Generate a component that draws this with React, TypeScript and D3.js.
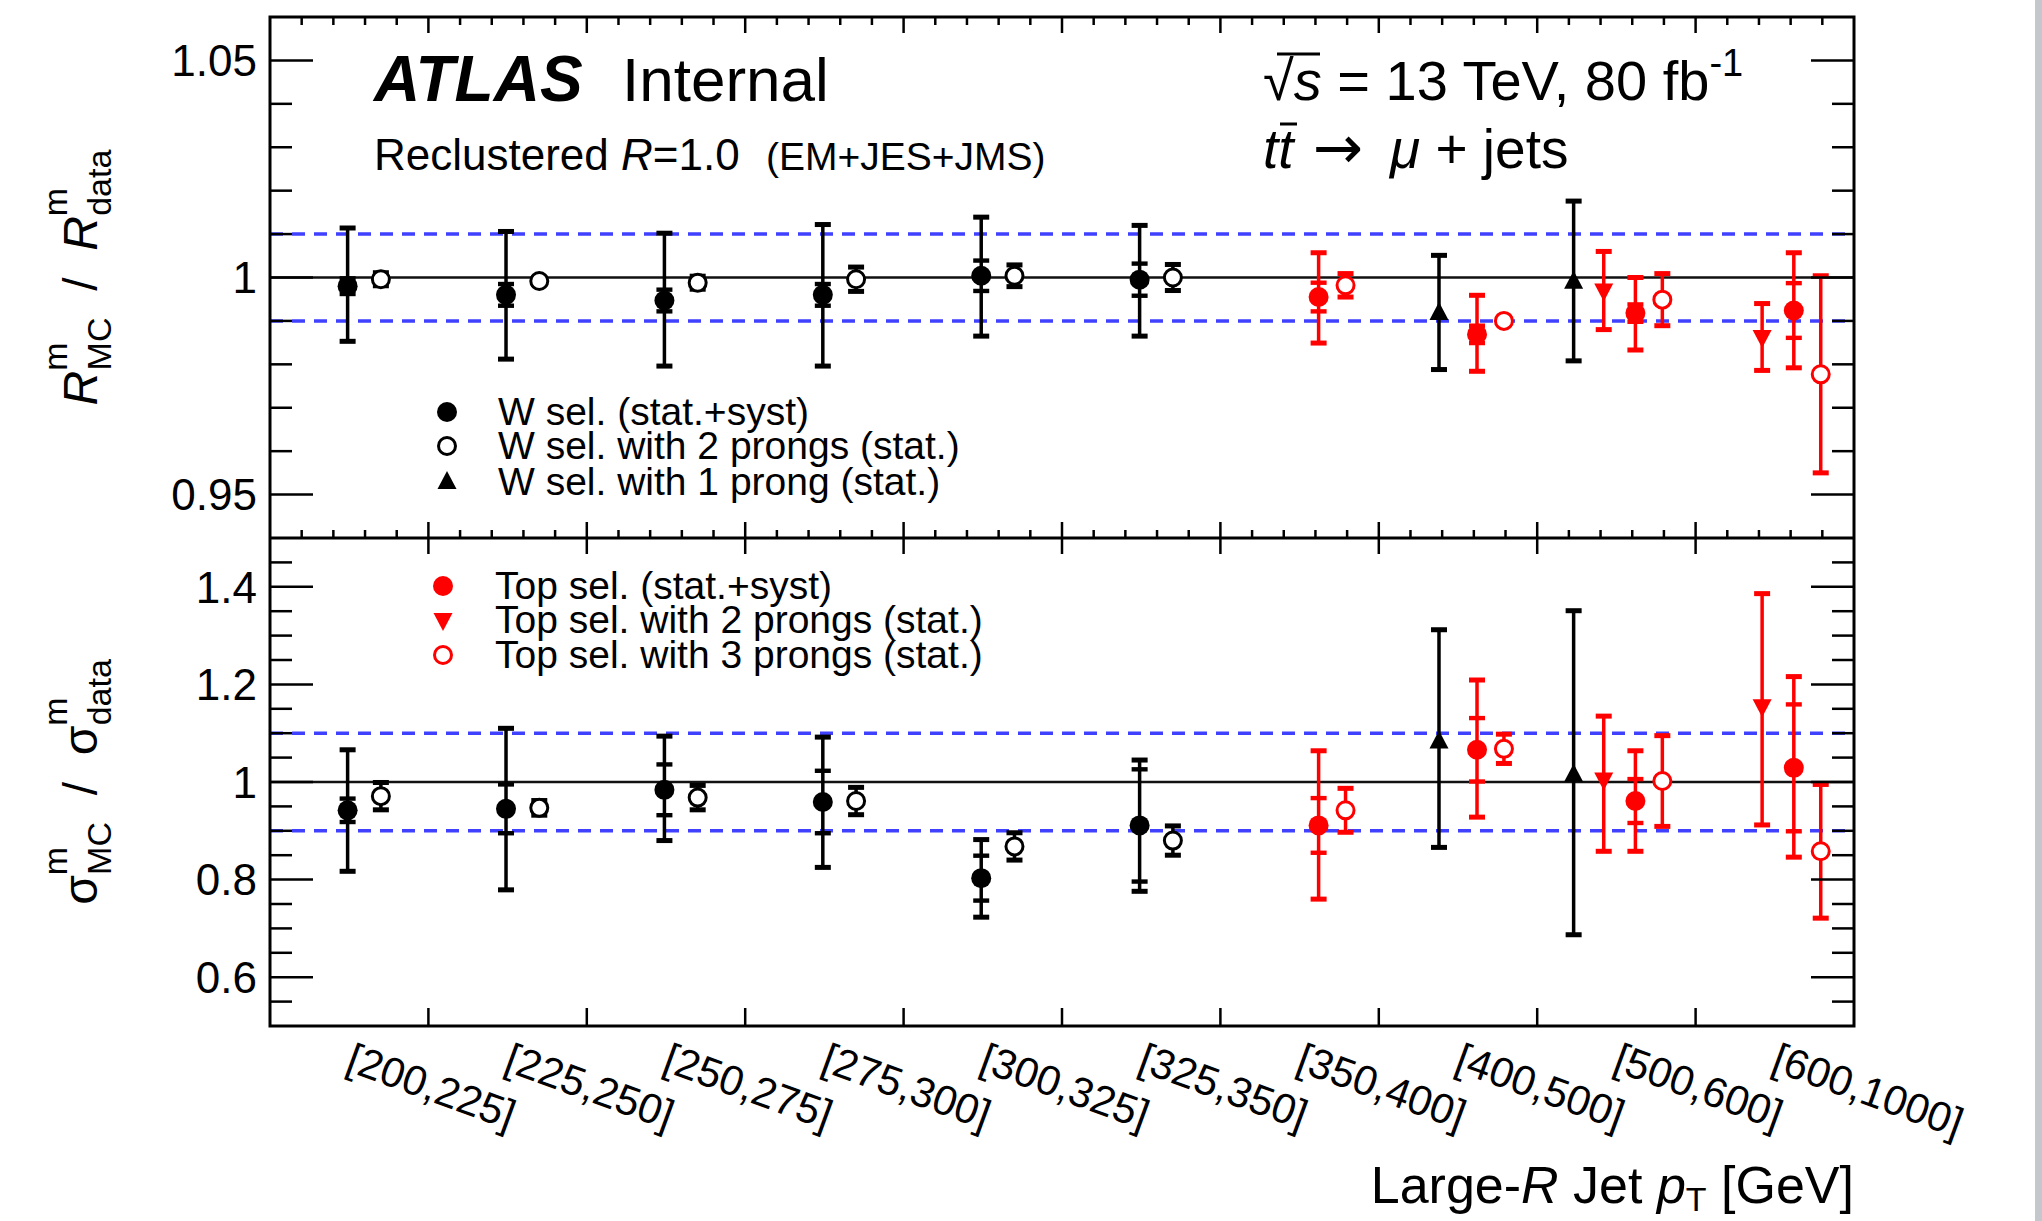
import React from "react"
import * as d3 from "d3"

const ptBins = ["[200,225]", "[225,250]", "[250,275]", "[275,300]", "[300,325]",
  "[325,350]", "[350,400]", "[400,500]", "[500,600]", "[600,1000]"]

const rTicks = [0.95, 1, 1.05]
const sTicks = [0.6, 0.8, 1, 1.2, 1.4]

// ---- R^m_MC / R^m_data ----
const rWSel     = [0.998, 0.996, 0.9947, 0.996, 1.0004, 0.9995, null, null, null, null]
const rWSelUp   = [0.0134, 0.0146, 0.0155, 0.0162, 0.0135, 0.0125, 0, 0, 0, 0]
const rWSelDn   = [0.0127, 0.0148, 0.0151, 0.0164, 0.0139, 0.013, 0, 0, 0, 0]
const rWSelStat = [0.0018, 0.0025, 0.0025, 0.0025, 0.0035, 0.0037, 0, 0, 0, 0]
const rW2p      = [0.9996, 0.9992, 0.9988, 0.9996, 1.0004, 1.0, null, null, null, null]
const rW2pErr   = [0.0015, 0.0008, 0.0015, 0.0028, 0.0025, 0.003, 0, 0, 0, 0]
const rW1p      = [null, null, null, null, null, null, null, 0.9918, 0.999, null]
const rW1pUp    = [0, 0, 0, 0, 0, 0, 0, 0.0133, 0.0186, 0]
const rW1pDn    = [0, 0, 0, 0, 0, 0, 0, 0.013, 0.0182, 0]
const rTopSel     = [null, null, null, null, null, null, 0.9955, 0.9869, 0.9918, 0.9924]
const rTopSelUp   = [0, 0, 0, 0, 0, 0, 0.0102, 0.009, 0.0082, 0.0133]
const rTopSelDn   = [0, 0, 0, 0, 0, 0, 0.0106, 0.0085, 0.0085, 0.0132]
const rTopSelStat = [0, 0, 0, 0, 0, 0, 0.0033, 0.002, 0.002, 0.0063]
const rTop2p    = [null, null, null, null, null, null, null, null, 0.997, 0.9863]
const rTop2pErr = [0, 0, 0, 0, 0, 0, 0, 0, 0.009, 0.0077]
const rTop3p    = [null, null, null, null, null, null, 0.9982, 0.99, 0.9949, 0.9777]
const rTop3pErr = [0, 0, 0, 0, 0, 0, 0.0027, 0.0008, 0.006, 0.0227]

// ---- sigma^m_MC / sigma^m_data ----
const sWSel     = [0.942, 0.945, 0.984, 0.959, 0.803, 0.911, null, null, null, null]
const sWSelUp   = [0.124, 0.165, 0.11, 0.133, 0.079, 0.134, 0, 0, 0, 0]
const sWSelDn   = [0.125, 0.166, 0.104, 0.134, 0.08, 0.135, 0, 0, 0, 0]
const sWSelStat = [0.024, 0.05, 0.052, 0.064, 0.046, 0.115, 0, 0, 0, 0]
const sW2p      = [0.971, 0.947, 0.968, 0.961, 0.868, 0.88, null, null, null, null]
const sW2pErr   = [0.028, 0.015, 0.025, 0.028, 0.028, 0.03, 0, 0, 0, 0]
const sW1p      = [null, null, null, null, null, null, null, 1.083, 1.015, null]
const sW1pUp    = [0, 0, 0, 0, 0, 0, 0, 0.229, 0.336, 0]
const sW1pDn    = [0, 0, 0, 0, 0, 0, 0, 0.217, 0.328, 0]
const sTopSel     = [null, null, null, null, null, null, 0.911, 1.066, 0.961, 1.029]
const sTopSelUp   = [0, 0, 0, 0, 0, 0, 0.153, 0.143, 0.103, 0.187]
const sTopSelDn   = [0, 0, 0, 0, 0, 0, 0.151, 0.138, 0.103, 0.183]
const sTopSelStat = [0, 0, 0, 0, 0, 0, 0.056, 0.065, 0.045, 0.13]
const sTop2p    = [null, null, null, null, null, null, null, null, 1.005, 1.155]
const sTop2pUp  = [0, 0, 0, 0, 0, 0, 0, 0, 0.13, 0.231]
const sTop2pDn  = [0, 0, 0, 0, 0, 0, 0, 0, 0.147, 0.243]
const sTop3p    = [null, null, null, null, null, null, 0.942, 1.068, 1.002, 0.858]
const sTop3pErr = [0, 0, 0, 0, 0, 0, 0.045, 0.03, 0.093, 0.137]

const legendW = ["W sel. (stat.+syst)", "W sel. with 2 prongs (stat.)", "W sel. with 1 prong (stat.)"]
const legendTop = ["Top sel. (stat.+syst)", "Top sel. with 2 prongs (stat.)", "Top sel. with 3 prongs (stat.)"]

const FONT = "'Liberation Sans', Arial, Helvetica, sans-serif"
const W = 2042, H = 1221
const L = 270, R = 1854, T = 17, M = 538, B = 1026
const BLUE = "#4040ff"

const x = d3.scaleBand().domain(ptBins).range([L, R])
const bw = x.bandwidth()
const yR = d3.scaleLinear().domain([0.94, 1.06]).range([M, T])
const yS = d3.scaleLinear().domain([0.5, 1.5]).range([B, M])

// position of each series inside a bin (fraction of bin width)
const SLOT = { wSel: 0.49, w2p: 0.7, w1p: 0.38, w1pShift: 0.23, t2p: 0.42, tSel: 0.62, t3p: 0.79 }

function marker(kind, cx, cy, color, key) {
  if (kind === "filled") return <circle key={key} cx={cx} cy={cy} r={10} fill={color} />
  if (kind === "open") return <circle key={key} cx={cx} cy={cy} r={8.5} fill="white" stroke={color} strokeWidth={3} />
  const s = kind === "up" ? 1 : -1
  return <path key={key} d={`M${cx},${cy - 11 * s}L${cx + 9.5},${cy + 7 * s}L${cx - 9.5},${cy + 7 * s}Z`} fill={color} />
}

function makeSeries(p) {
  return [
    { key: "wSel", vals: p.wSel, up: p.wSelUp, dn: p.wSelDn, stat: p.wSelStat, kind: "filled", color: "black" },
    { key: "w2p", vals: p.w2p, up: p.w2pErr, dn: p.w2pErr, kind: "open", color: "black" },
    { key: "w1p", vals: p.w1p, up: p.w1pUp, dn: p.w1pDn, kind: "up", color: "black" },
    { key: "t2p", vals: p.t2p, up: p.t2pUp, dn: p.t2pDn, kind: "down", color: "red" },
    { key: "tSel", vals: p.tSel, up: p.tSelUp, dn: p.tSelDn, stat: p.tSelStat, kind: "filled", color: "red" },
    { key: "t3p", vals: p.t3p, up: p.t3pErr, dn: p.t3pErr, kind: "open", color: "red" },
  ]
}

const rSeries = makeSeries({
  wSel: rWSel, wSelUp: rWSelUp, wSelDn: rWSelDn, wSelStat: rWSelStat,
  w2p: rW2p, w2pErr: rW2pErr, w1p: rW1p, w1pUp: rW1pUp, w1pDn: rW1pDn,
  t2p: rTop2p, t2pUp: rTop2pErr, t2pDn: rTop2pErr,
  tSel: rTopSel, tSelUp: rTopSelUp, tSelDn: rTopSelDn, tSelStat: rTopSelStat,
  t3p: rTop3p, t3pErr: rTop3pErr,
})
const sSeries = makeSeries({
  wSel: sWSel, wSelUp: sWSelUp, wSelDn: sWSelDn, wSelStat: sWSelStat,
  w2p: sW2p, w2pErr: sW2pErr, w1p: sW1p, w1pUp: sW1pUp, w1pDn: sW1pDn,
  t2p: sTop2p, t2pUp: sTop2pUp, t2pDn: sTop2pDn,
  tSel: sTopSel, tSelUp: sTopSelUp, tSelDn: sTopSelDn, tSelStat: sTopSelStat,
  t3p: sTop3p, t3pErr: sTop3pErr,
})

function points(series, y, t2pVals) {
  const out = []
  series.forEach(s => {
    s.vals.forEach((v, i) => {
      if (v == null) return
      let off = SLOT[s.key]
      if (s.key === "w1p" && t2pVals[i] != null) off = SLOT.w1pShift
      const cx = x(ptBins[i]) + off * bw
      const y1 = y(v + s.up[i]), y2 = y(v - s.dn[i])
      out.push(
        <g key={s.key + i} fill={s.color}>
          <line x1={cx} x2={cx} y1={y1} y2={y2} stroke={s.color} strokeWidth={3.5} />
          <rect x={cx - 8} y={y1 - 2.5} width={16} height={5} />
          <rect x={cx - 8} y={y2 - 2.5} width={16} height={5} />
          {s.stat && <rect x={cx - 8} y={y(v + s.stat[i]) - 2.2} width={16} height={4.4} />}
          {s.stat && <rect x={cx - 8} y={y(v - s.stat[i]) - 2.2} width={16} height={4.4} />}
          {marker(s.kind, cx, y(v), s.color, "m")}
        </g>
      )
    })
  })
  return out
}

function yAxis(y, majors, minorCount) {
  const els = []
  const [d0, d1] = y.domain()
  y.ticks(minorCount).forEach((v, i) => {
    if (Math.abs(v - d0) < 1e-9 || Math.abs(v - d1) < 1e-9) return
    const major = majors.some(m => Math.abs(m - v) < 1e-9)
    const len = major ? 43 : 22
    const py = y(v)
    els.push(<line key={"l" + i} x1={L} x2={L + len} y1={py} y2={py} />)
    els.push(<line key={"r" + i} x1={R} x2={R - len} y1={py} y2={py} />)
  })
  majors.forEach(v => {
    els.push(<text key={"t" + v} x={257} y={y(v)} dy="0.36em" textAnchor="end" fontSize={44} stroke="none" fill="black">{String(v)}</text>)
  })
  return els
}

function xTicks() {
  const els = []
  ptBins.forEach((b, i) => {
    const x0 = x(b)
    if (i > 0) {
      els.push(<line key={"a" + i} x1={x0} x2={x0} y1={T} y2={T + 16} />)
      els.push(<line key={"b" + i} x1={x0} x2={x0} y1={M - 16} y2={M + 16} />)
      els.push(<line key={"c" + i} x1={x0} x2={x0} y1={B} y2={B - 18} />)
    }
    for (let k = 1; k < 5; k++) {
      const xm = x0 + (k * bw) / 5
      els.push(<line key={"d" + i + k} x1={xm} x2={xm} y1={T} y2={T + 8} />)
      els.push(<line key={"e" + i + k} x1={xm} x2={xm} y1={M} y2={M - 8} />)
    }
  })
  return els
}

function refLines(y, band) {
  return (
    <g>
      <line x1={L} x2={R} y1={y(1 + band)} y2={y(1 + band)} stroke={BLUE} strokeWidth={3.5} strokeDasharray="13,9" />
      <line x1={L} x2={R} y1={y(1 - band)} y2={y(1 - band)} stroke={BLUE} strokeWidth={3.5} strokeDasharray="13,9" />
      <line x1={L} x2={R} y1={y(1)} y2={y(1)} stroke="#111" strokeWidth={2.5} />
    </g>
  )
}

function legend(entries, kinds, color, mx, tx, rows) {
  return entries.map((t, i) => (
    <g key={t}>
      {marker(kinds[i], mx, rows[i], color, "lm")}
      <text x={tx} y={rows[i] + 13} fontSize={39}>{t}</text>
    </g>
  ))
}

export default function App() {
  return (
    <div style={{ position: "absolute", left: 0, top: 0 }}>
      <svg width={W} height={H} fontFamily={FONT} style={{ display: "block", background: "white" }}>
        <rect x={2035} y={0} width={7} height={H} fill="#c4c8cc" />

        {refLines(yR, 0.01)}
        {refLines(yS, 0.1)}

        {points(rSeries, yR, rTop2p)}
        {points(sSeries, yS, sTop2p)}

        <g stroke="black" strokeWidth={2.5}>
          {yAxis(yR, rTicks, 12)}
          {yAxis(yS, sTicks, 20)}
          {xTicks()}
        </g>
        <rect x={L} y={T} width={R - L} height={B - T} fill="none" stroke="black" strokeWidth={3} />
        <line x1={L} x2={R} y1={M} y2={M} stroke="black" strokeWidth={3} />

        {/* header */}
        <text x={374} y={101} fontSize={64} fontWeight="bold" fontStyle="italic">ATLAS</text>
        <text x={622} y={101} fontSize={62}>Internal</text>
        <text x={374} y={170} fontSize={44}>
          Reclustered <tspan fontStyle="italic">R</tspan>=1.0
          <tspan x={766} fontSize={39}>(EM+JES+JMS)</tspan>
        </text>
        <text x={1263} y={100} fontSize={56}>
          √<tspan fontStyle="italic">s</tspan> = 13 TeV, 80 fb<tspan fontSize={38} dy={-24}>-1</tspan>
        </text>
        <line x1={1277} x2={1320} y1={54} y2={54} stroke="black" strokeWidth={3} />
        <text x={1263} y={168} fontSize={55}>
          <tspan fontStyle="italic">tt</tspan>
          <tspan x={1313} fontFamily="'DejaVu Sans', sans-serif" fontSize={60}>→</tspan>
          <tspan x={1390} fontStyle="italic">μ</tspan> + jets
        </text>
        <line x1={1280} x2={1297} y1={124} y2={124} stroke="black" strokeWidth={3} />

        {/* legends */}
        {legend(legendW, ["filled", "open", "up"], "black", 447, 498, [412, 446, 482])}
        {legend(legendTop, ["filled", "down", "open"], "red", 443, 495, [586, 620, 655])}

        {/* y titles */}
        <text transform={`translate(97,${yR(1)}) rotate(-90)`} textAnchor="middle" fontSize={48}>
          <tspan fontStyle="italic">R</tspan>
          <tspan fontSize={34} dy={-30}>m</tspan>
          <tspan fontSize={34} dx={-28} dy={44}>MC</tspan>
          <tspan dy={-14}>{"\u00a0\u00a0/\u00a0\u00a0"}</tspan>
          <tspan fontStyle="italic">R</tspan>
          <tspan fontSize={34} dy={-30}>m</tspan>
          <tspan fontSize={34} dx={-28} dy={44}>data</tspan>
        </text>
        <text transform={`translate(97,${yS(1)}) rotate(-90)`} textAnchor="middle" fontSize={48}>
          <tspan>σ</tspan>
          <tspan fontSize={34} dy={-30}>m</tspan>
          <tspan fontSize={34} dx={-28} dy={44}>MC</tspan>
          <tspan dy={-14}>{"\u00a0\u00a0/\u00a0\u00a0"}</tspan>
          <tspan>σ</tspan>
          <tspan fontSize={34} dy={-30}>m</tspan>
          <tspan fontSize={34} dx={-28} dy={44}>data</tspan>
        </text>

        {/* x labels */}
        {ptBins.map(b => (
          <text key={b} transform={`translate(${x(b) + bw / 2 - 5},1070) rotate(20)`} fontSize={42}>{b}</text>
        ))}
        <text x={R} y={1203} textAnchor="end" fontSize={52}>
          Large-<tspan fontStyle="italic">R</tspan> Jet <tspan fontStyle="italic">p</tspan>
          <tspan fontSize={34} dy={8}>T</tspan><tspan dy={-8}> [GeV]</tspan>
        </text>
      </svg>
    </div>
  )
}
